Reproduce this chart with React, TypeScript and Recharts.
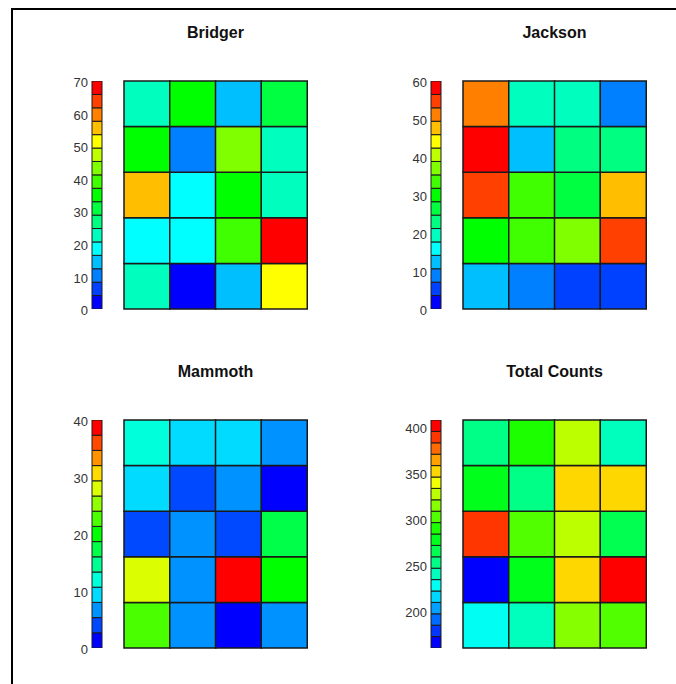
import React from 'react';
import { BarChart, Bar, XAxis, YAxis, Cell } from 'recharts';

// ---------- data ----------
const columns = ['C1', 'C2', 'C3', 'C4'];
const rowsTopToBottom = ['R1', 'R2', 'R3', 'R4', 'R5'];

const bridgerValues = [
  [23, 35, 14, 31],
  [35, 10, 43, 23],
  [56, 18, 35, 22],
  [19, 18, 39, 68],
  [23, 2, 14, 52],
];
const jacksonValues = [
  [51, 19, 19, 9],
  [58, 12, 23, 23],
  [55, 34, 27, 48],
  [30, 33, 37, 54],
  [12, 9, 5, 5],
];
const mammothValues = [
  [12, 9, 9, 7],
  [9, 4, 7, 1],
  [4, 7, 4, 17],
  [28, 6, 39, 20],
  [23, 7, 1, 7],
];
const totalValues = [
  [253, 290, 327, 240],
  [278, 253, 352, 352],
  [389, 302, 327, 265],
  [163, 278, 352, 402],
  [228, 240, 315, 302],
];

const bridgerTicks = [0, 10, 20, 30, 40, 50, 60, 70];
const jacksonTicks = [0, 10, 20, 30, 40, 50, 60];
const mammothTicks = [0, 10, 20, 30, 40];
const totalTicks = [200, 250, 300, 350, 400];

const bridgerRange = [0, 70];
const jacksonRange = [0, 60];
const mammothRange = [0, 40];
const totalRange = [160, 408];

const titles = ['Bridger', 'Jackson', 'Mammoth', 'Total Counts'];

// ---------- style helpers ----------
const FONT = '"Liberation Sans", Arial, Helvetica, sans-serif';

function jet(n: number): string[] {
  const out: string[] = [];
  for (let i = 0; i < n; i++) {
    const t = (i * 1020) / (n - 1);
    let r = 0, g = 0, b = 0;
    if (t <= 255) { r = 0; g = t; b = 255; }
    else if (t <= 510) { r = 0; g = 255; b = 510 - t; }
    else if (t <= 765) { r = t - 510; g = 255; b = 0; }
    else { r = 255; g = 1020 - t; b = 0; }
    const h = (v: number) => Math.round(v).toString(16).padStart(2, '0');
    out.push('#' + h(r) + h(g) + h(b));
  }
  return out;
}

function colorFor(v: number, range: number[], palette: string[]) {
  const n = palette.length;
  let idx = Math.floor(((v - range[0]) / (range[1] - range[0])) * n);
  if (idx < 0) idx = 0;
  if (idx > n - 1) idx = n - 1;
  return palette[idx];
}

type PanelProps = {
  title: string;
  values: number[][];
  range: number[];
  ticks: number[];
  levels: number;
  left: number; // heatmap left (page coords)
  top: number;  // heatmap top (page coords)
};

const HW = 183;
const HH = 228;

function Panel({ title, values, range, ticks, levels, left, top }: PanelProps) {
  const palette = jet(levels);
  const step = (range[1] - range[0]) / levels;

  const barRow: Record<string, number | string> = { name: 'scale', base: range[0] };
  palette.forEach((_, i) => { barRow['s' + i] = step; });
  const barData = [barRow];

  const nRows = rowsTopToBottom.length;
  const heatData = columns.map((c) => {
    const o: Record<string, number | string> = { col: c };
    rowsTopToBottom.forEach((_, r) => { o['r' + r] = 1; });
    return o;
  });

  // bars stacked bottom to top
  const bottomUp = rowsTopToBottom.map((_, i) => nRows - 1 - i);

  return (
    <>
      <div
        style={{
          position: 'absolute', left, top: top - 58, width: HW, textAlign: 'center',
          fontFamily: FONT, fontWeight: 'bold', fontSize: 16, lineHeight: '20px', color: '#111',
        }}
      >
        {title}
      </div>
      <div style={{ position: 'absolute', left: left - 32 - 50, top: top - 8 }}>
        <BarChart
          width={61}
          height={HH + 16}
          data={barData}
          margin={{ top: 8, bottom: 8, left: 0, right: 1 }}
          barCategoryGap={0}
        >
          <XAxis dataKey="name" hide />
          <YAxis
            width={50}
            domain={range}
            type="number"
            allowDataOverflow
            ticks={ticks}
            interval={0}
            axisLine={false}
            tickLine={false}
            tickSize={2}
            tickMargin={2}
            tick={{ fill: '#333', fontSize: 13, fontFamily: FONT, dy: 1.5 }}
          />
          <Bar dataKey="base" stackId="a" fill="transparent" isAnimationActive={false} />
          {palette.map((c, i) => (
            <Bar
              key={i}
              dataKey={'s' + i}
              stackId="a"
              fill={c}
              stroke="#1a1a1a"
              strokeWidth={1}
              isAnimationActive={false}
            />
          ))}
        </BarChart>
      </div>
      <div style={{ position: 'absolute', left: left - 1, top: top - 1 }}>
        <BarChart
          width={HW + 2}
          height={HH + 2}
          data={heatData}
          margin={{ top: 1, bottom: 1, left: 1, right: 1 }}
          barCategoryGap={0}
          barGap={0}
        >
          <XAxis dataKey="col" hide />
          <YAxis hide domain={[0, nRows]} type="number" />
          {bottomUp.map((r) => (
            <Bar
              key={r}
              dataKey={'r' + r}
              stackId="h"
              stroke="#1a1a1a"
              strokeWidth={1.5}
              isAnimationActive={false}
            >
              {columns.map((c, ci) => (
                <Cell key={c} fill={colorFor(values[r][ci], range, palette)} />
              ))}
            </Bar>
          ))}
        </BarChart>
      </div>
    </>
  );
}

export default function App() {
  const x1 = 124;
  const x2 = 463;
  const y1 = 81;
  const y2 = 420;
  return (
    <div style={{ position: 'relative', width: 676, height: 684, overflow: 'hidden', background: '#fff' }}>
      <style>{'html,body{margin:0;padding:0;}'}</style>
      <div
        style={{
          position: 'absolute', left: 11, top: 8, width: 665, height: 676,
          borderLeft: '2px solid #000', borderTop: '2px solid #000', boxSizing: 'border-box',
        }}
      />
      <Panel title={titles[0]} values={bridgerValues} range={bridgerRange} ticks={bridgerTicks} levels={17} left={x1} top={y1} />
      <Panel title={titles[1]} values={jacksonValues} range={jacksonRange} ticks={jacksonTicks} levels={17} left={x2} top={y1} />
      <Panel title={titles[2]} values={mammothValues} range={mammothRange} ticks={mammothTicks} levels={15} left={x1} top={y2} />
      <Panel title={titles[3]} values={totalValues} range={totalRange} ticks={totalTicks} levels={20} left={x2} top={y2} />
    </div>
  );
}
